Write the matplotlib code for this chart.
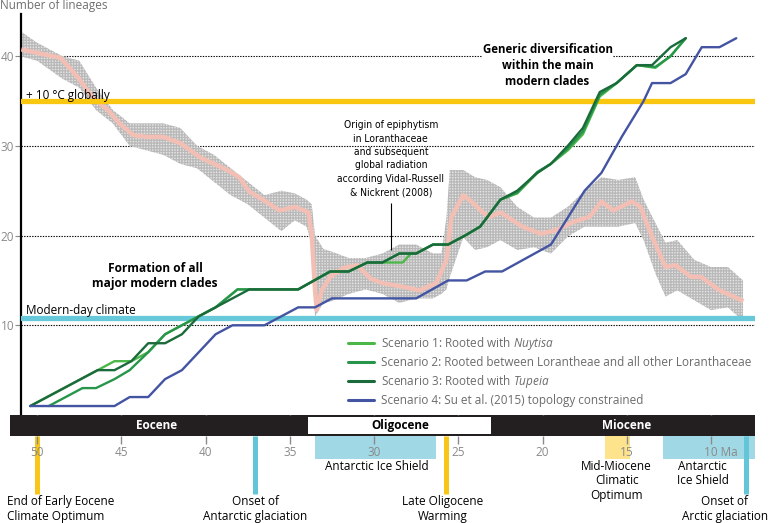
import numpy as np
import matplotlib
matplotlib.use('Agg')
import matplotlib.pyplot as plt

plt.rcParams['font.family'] = ['Open Sans', 'DejaVu Sans']
plt.rcParams['mathtext.fontset'] = 'custom'
plt.rcParams['mathtext.it'] = 'Open Sans:italic'
plt.rcParams['mathtext.rm'] = 'Open Sans'
plt.rcParams['hatch.linewidth'] = 0.9

# Lineages through time (Ma, number of lineages)
s1_ma = [50.4, 46.4, 45.4, 44.4, 43.4, 42.4, 41.4, 40.4, 39.4, 38.1, 37.4, 34.5, 32.6, 31.5, 30.4, 29.5, 28.3, 27.8, 27.5,
         26.5, 25.6, 24.6, 23.7, 22.5, 21.5, 20.3, 19.5, 18.5, 17.6, 16.6, 15.6, 14.4, 13.3, 12.4, 11.5]
s1_n = [1, 5, 6, 6, 7, 9, 10, 11, 12, 14, 14, 14, 16, 16, 17, 17, 17, 18, 18,
        19, 19, 20, 21, 24, 24.7, 27, 28, 29.5, 31.3, 35.5, 37, 39, 38.7, 40, 42]
s2_ma = [49.3, 47.3, 46.5, 45.4, 44.5, 43.4, 42.4, 41.4, 40.4, 39.4, 38.1, 37.4, 34.5, 32.6, 31.5, 30.4, 29.5, 28.5, 27.5,
         26.5, 25.6, 24.6, 23.7, 22.5, 21.5, 20.3, 19.5, 18.5, 17.6, 16.6, 15.6, 14.4, 13.3, 12.4, 11.5]
s2_n = [1, 3, 3, 4, 5, 7, 9, 10, 11, 12, 14, 14, 14, 16, 16, 17, 17, 18, 18,
        19, 19, 20, 21, 24, 24.8, 27.1, 28, 29.7, 31.6, 35.7, 37, 39, 38.8, 40, 42]
s3_ma = [50.4, 46.4, 45.4, 44.4, 43.4, 42.4, 41.4, 40.4, 39.4, 37.4, 34.5, 32.6, 31.5, 30.4, 29.5, 28.5, 27.5,
         26.5, 25.6, 24.6, 23.7, 22.5, 21.5, 20.3, 19.5, 18.5, 17.6, 16.6, 15.6, 14.4, 13.5, 12.4, 11.5]
s3_n = [1, 5, 5, 6, 8, 8, 9, 11, 12, 14, 14, 16, 16, 17, 17, 18, 18,
        19, 19, 20, 21, 24, 25, 27, 28, 30, 32, 36, 37, 39, 39, 41, 42]
s4_ma = [50.4, 45.4, 44.5, 43.4, 42.4, 41.4, 39.4, 38.4, 36.5, 34.5, 33.5, 32.5, 27.5, 25.6, 24.5, 23.4, 22.4,
         19.5, 17.5, 16.5, 15.3, 14.0, 13.5, 12.4, 11.5, 10.55, 9.5, 8.5]
s4_n = [1, 1, 2, 2, 4, 5, 9, 10, 10, 12, 12, 13, 13, 15, 15, 16, 16,
        19, 25, 27, 31, 35, 37, 37, 38, 41, 41, 42]
scen_labels = ['Scenario 1: Rooted with $\\it{Nuytisa}$',
               'Scenario 2: Rooted between Lorantheae and all other Loranthaceae',
               'Scenario 3: Rooted with $\\it{Tupeia}$',
               'Scenario 4: Su et al. (2015) topology constrained']
scen_colors = ['#4cb749', '#27964a', '#1b6a3b', '#4354a2']

# Temperature record rescaled to the lineage axis: smoothed curve and scatter envelope
t_ma = [50.8, 48.6, 47.6, 46.7, 45.8, 45.1, 44.3, 43.5, 42.5, 41.5, 40.3, 38.7, 38.0, 37.4, 36.6, 35.6, 34.7, 33.9,
        33.7, 33.5, 33.4, 33.1, 32.6, 31.8, 31.0, 30.2, 29.5, 28.3, 27.3, 26.3, 25.7, 25.4, 24.7, 24.1, 23.5, 23.1,
        22.5, 21.2, 20.1, 19.2, 18.2, 17.2, 16.5, 15.8, 14.7, 14.2, 13.5, 12.7, 12.1, 11.2, 10.6, 9.5, 8.2]
t_v = [40.7, 39.8, 37.7, 35.4, 34.0, 32.5, 31.2, 31.0, 31.0, 30.3, 28.7, 27.3, 26.5, 24.9, 24.0, 22.8, 23.2, 22.6,
       20.2, 13.9, 11.7, 13.9, 15.4, 16.4, 16.7, 15.2, 14.7, 14.3, 13.9, 14.7, 17.3, 22.1, 24.5, 23.6, 22.5, 22.1,
       22.6, 21.0, 20.2, 20.6, 21.5, 22.1, 23.8, 22.8, 23.8, 23.2, 19.9, 16.5, 16.7, 15.4, 15.4, 13.9, 12.8]
e_ma = [51.0, 50.0, 48.5, 47.5, 46.5, 45.5, 44.5, 43.5, 42.5, 41.5, 40.5, 39.5, 38.5, 37.5, 36.5, 35.5, 34.7,
        34.0, 33.7, 33.5, 33.0, 32.5, 31.5, 30.5, 29.5, 28.5, 27.5, 26.5, 26.0, 25.7, 25.5, 24.7, 24.0, 23.3,
        22.5, 21.5, 20.5, 19.5, 18.5, 17.5, 16.5, 15.5, 14.5, 14.0, 13.3, 12.7, 12.0, 11.0, 10.0, 9.0, 8.1]
e_hi = [42.8, 41.5, 40.0, 39.5, 36.5, 34.0, 32.5, 32.5, 32.5, 32.0, 30.0, 29.0, 27.5, 26.0, 24.5, 25.0, 24.7,
        24.0, 23.5, 20.0, 18.5, 18.2, 17.5, 17.5, 18.0, 19.0, 19.0, 18.0, 18.0, 22.0, 27.3, 27.3, 26.5, 26.2,
        25.4, 23.2, 22.0, 22.0, 23.2, 25.0, 26.5, 26.2, 26.5, 24.0, 21.4, 19.2, 19.5, 17.3, 16.5, 16.5, 15.0]
e_lo = [40.0, 39.5, 37.5, 36.5, 34.0, 32.5, 30.0, 29.5, 29.0, 28.0, 27.5, 26.0, 24.5, 23.5, 22.0, 20.5, 21.7,
        21.0, 19.0, 11.0, 12.5, 12.7, 13.5, 14.0, 13.5, 12.5, 13.0, 13.0, 13.5, 14.0, 15.4, 19.8, 18.4, 18.7,
        19.5, 18.4, 18.7, 18.0, 19.9, 21.0, 21.0, 21.0, 21.4, 19.5, 15.8, 13.2, 13.9, 12.8, 11.7, 12.0, 10.5]

# Climate reference levels
warm_level = 35.0
modern_level = 10.8

# Time scale
epochs = ['Eocene', 'Oligocene', 'Miocene']
epoch_old = [51.6, 33.9, 23.03]
epoch_young = [33.9, 23.03, 7.4]
epoch_lbl_ma = [42.9, 28.46, 15.0]
periods = ['Antarctic Ice Shield', 'Mid-Miocene\nClimatic\nOptimum', 'Antarctic\nIce Shield']
period_old = [33.5, 16.3, 12.85]
period_young = [26.3, 14.8, 7.4]
period_colors = ['#a0d8e5', '#fde48c', '#a0d8e5']
events = ['End of Early Eocene\nClimate Optimum', 'Onset of\nAntarctic glaciation', 'Late Oligocene\nWarming',
          'Onset of\nArctic glaciation']
event_ma = [50.0, 37.05, 25.7, 7.95]
event_colors = ['#f8c618', '#62c6d8', '#f8c618', '#62c6d8']
ticks_ma = [50, 45, 40, 35, 30, 25, 20, 15, 10]
origin_ma = 29.0

W, H = 770, 523
GREY = '#8a8a8a'


def px2ma(px):
    return 50.0 - (px - 37.0) / 16.85


fig = plt.figure(figsize=(W / 100, H / 100), dpi=100, facecolor='w')
ax = fig.add_axes([21 / W, 1 - 415 / H, (755 - 21) / W, (415 - 14) / H])
ax.set_xlim(px2ma(21), px2ma(755))
ax.set_ylim(0, 44.7)
for s in ['top', 'right', 'bottom']:
    ax.spines[s].set_visible(False)
ax.spines['left'].set_linewidth(1.6)
ax.set_xticks([])
ax.set_yticks([10, 20, 30, 40])
ax.tick_params(axis='y', length=4, width=0.8, color=GREY, labelcolor=GREY, labelsize=8.5, pad=1)

for v in [10, 20, 30, 40]:
    ax.axhline(v, color='k', lw=0.8, ls=(0, (1.2, 1.2)), zorder=1)

ax.fill_between(e_ma, e_lo, e_hi, facecolor='#e4e4e4', edgecolor='#b9b9b9', hatch='++++++', lw=0, zorder=2)
ax.plot(t_ma, t_v, color='#f3bfb4', lw=3.2, zorder=3, solid_joinstyle='round')

ax.axhline(warm_level, color='#f9c710', lw=3.8, zorder=4)
ax.axhline(modern_level, color='#66c8d9', lw=3.8, zorder=4)

handles = []
for xs, ys, c, lab in zip([s1_ma, s2_ma, s3_ma, s4_ma], [s1_n, s2_n, s3_n, s4_n], scen_colors, scen_labels):
    ln, = ax.plot(xs, ys, color=c, lw=1.7, zorder=6, solid_joinstyle='round', solid_capstyle='round', label=lab)
    handles.append(ln)

ax.text(px2ma(26), 35.6, '+ 10 °C globally', fontsize=8.5, va='center', ha='left', zorder=7)
ax.text(px2ma(26), 11.7, 'Modern-day climate', fontsize=8.5, va='center', ha='left', zorder=7)
ax.text(19.7, 41.5, 'Generic diversification\nwithin the main\nmodern clades', fontsize=8.3, fontweight='bold',
        ha='center', va='top', linespacing=1.3, zorder=5,
        bbox=dict(facecolor='w', edgecolor='none', pad=0.5))
ax.text(43.0, 17.1, 'Formation of all\nmajor modern clades', fontsize=8.6, fontweight='bold',
        ha='center', va='top', linespacing=1.25, zorder=5)
ax.text(origin_ma, 32.85, 'Origin of epiphytism\nin Loranthaceae\nand subsequent\nglobal radiation\n'
        'according Vidal-Russell\n& Nickrent (2008)', fontsize=7.4, ha='center', va='top', linespacing=1.42,
        family=['Liberation Sans Narrow', 'DejaVu Sans'], stretch='condensed', zorder=7)
ax.vlines(origin_ma, 18.4, 23.6, color='k', lw=0.8, zorder=7)

leg = ax.legend(handles=handles, loc='upper left', bbox_to_anchor=(348 / W, 1 - 335 / H),
                bbox_transform=fig.transFigure, frameon=False, fontsize=8.5, handlelength=2.2,
                handletextpad=0.6, labelspacing=0.33, borderpad=0, borderaxespad=0)
for t in leg.get_texts():
    t.set_color('#6b6b6b')
for l in leg.get_lines():
    l.set_linewidth(2.2)

fig.text(0.0, 1 - 5 / H, 'Number of lineages', fontsize=8.5, color='#6f6f6f', ha='left', va='center')

# time scale panel, y in pixels below the plot bottom
ax2 = fig.add_axes([0, 0, 1, 108 / H])
ax2.set_xlim(px2ma(0), px2ma(W))
ax2.set_ylim(108, 0)
ax2.axis('off')

ax2.barh(32.5, [o - y for o, y in zip(period_old, period_young)], left=period_young, height=23,
         color=period_colors, zorder=1)
ax2.vlines(event_ma, 21, 79, colors=event_colors, lw=3.6, zorder=2)
ax2.barh(10.5, epoch_old[0] - epoch_young[-1], left=epoch_young[-1], height=21, color='#231f20', zorder=3)
ax2.barh(10.5, epoch_old[1] - epoch_young[1], left=epoch_young[1], height=17.5, color='w', zorder=4)
for name, m, c in zip(epochs, epoch_lbl_ma, ['w', 'k', 'w']):
    ax2.text(m, 10.5, name, color=c, fontsize=8.5, fontweight='bold', ha='center', va='center', zorder=5)

ax2.vlines(ticks_ma, 21, 29, color=GREY, lw=1, zorder=5)
ax2.vlines(ticks_ma, -3, 0, color=GREY, lw=1, zorder=5)
for t in ticks_ma:
    lab = '%d' % t
    if t == ticks_ma[-1]:
        ax2.text(t + 0.4, 37, lab + ' Ma', color=GREY, fontsize=8.5, ha='left', va='center', zorder=5)
    else:
        ax2.text(t, 37, lab, color=GREY, fontsize=8.5, ha='center', va='center', zorder=5)

ax2.text((period_old[0] + period_young[0]) / 2 - 0.05, 51, periods[0], fontsize=8.5, ha='center', va='center')
ax2.text(15.6, 45, periods[1], fontsize=8.5, ha='center', va='top', linespacing=1.15)
ax2.text(10.5, 45, periods[2], fontsize=8.5, ha='center', va='top', linespacing=1.15)

ax2.text(px2ma(7), 94, events[0], fontsize=8.5, ha='left', va='center', linespacing=1.15)
ax2.text(event_ma[1], 94, events[1], fontsize=8.5, ha='center', va='center', linespacing=1.15)
ax2.text(px2ma(443), 94, events[2], fontsize=8.5, ha='center', va='center', linespacing=1.15)
ax2.text(px2ma(768), 94, events[3], fontsize=8.5, ha='right', va='center', linespacing=1.15, multialignment='center')

fig.savefig('out.png', dpi=100, facecolor='w')
